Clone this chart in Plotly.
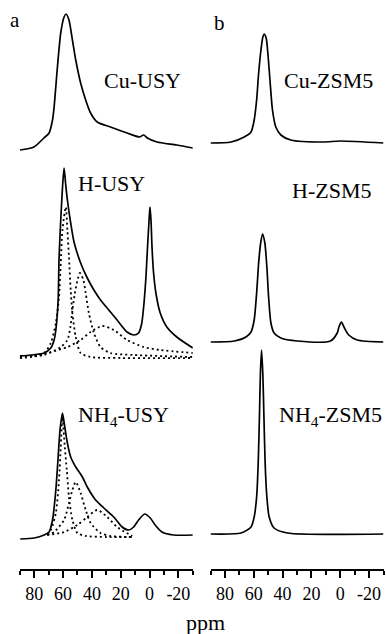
import plotly.graph_objects as go

# ---------------- data (ppm, intensity in arbitrary units) ----------------
cu_usy_ppm = [90, 80.2, 73.3, 69.7, 67.3, 66.2, 63.9, 61.6, 59.3, 57.9, 55.9, 53.5, 51.2, 47.8, 44.3, 40.9, 36.3, 27.1, 15.6, 7, 4.1, 1.5, -5.1, -18.9, -30]
cu_usy_int = [0, 3, 12, 17, 30, 43, 83, 117, 133, 136, 130, 110, 90, 67, 50, 37, 28, 23, 17, 13, 15, 12, 8, 5, 2]

h_usy_ppm = [90, 82.3, 73.1, 68.5, 66.2, 65, 63.4, 62.8, 61.6, 60.4, 59.3, 58.2, 57, 54.7, 52.4, 47.8, 43.2, 38.6, 34, 27.1, 22.5, 15.6, 11, 7.6, 5.5, 4.1, 2.5, 1.4, 0.2, -0.3, -1, -1.7, -2.8, -4.4, -7.4, -12, -18.9, -30]
h_usy_int = [0, 1, 3, 8, 16, 26, 56, 96, 136, 168, 188, 172, 156, 133, 114, 93, 78, 66, 56, 44, 36, 24, 21, 23, 32, 49, 79, 109, 139, 149, 136, 109, 83, 63, 43, 29, 19, 8]

h_usy_c1_ppm = [90, 82.3, 73.1, 68.5, 65, 62.8, 61.6, 60.4, 58.1, 57, 55.9, 54.7, 53.5, 51.2, 47.8, 40.9, 20, -30]
h_usy_c1_int = [0, 1, 5, 15, 35, 61, 95, 128, 151, 128, 101, 68, 45, 21, 5, 1, 0, 0]
h_usy_c2_ppm = [90, 73.1, 61.6, 57, 55, 53.5, 52, 50.1, 48.3, 45.9, 44.3, 42.1, 38.6, 34, 27.1, 11, -30]
h_usy_c2_int = [1, 3, 11, 18, 30, 48, 63, 77, 85, 78, 65, 45, 25, 11, 5, 3, 1]
h_usy_c3_ppm = [90, 80, 68.5, 57, 47.8, 40.9, 32.8, 24.8, 15.6, 4.1, -7.4, -30]
h_usy_c3_int = [2, 2, 6, 11, 18, 26, 32, 28, 18, 11, 8, 5]

nh4_usy_ppm = [89.7, 80, 73.1, 69.7, 67.3, 65, 63.4, 62.1, 60.4, 58.8, 57, 54.7, 51.2, 46.6, 43.2, 37.4, 31.7, 24.8, 19, 14.5, 11, 7.6, 3.4, -0.5, -3.9, -8.6, -16.6, -30]
nh4_usy_int = [0, 1, 4, 7, 19, 49, 82, 109, 126, 112, 96, 82, 72, 62, 52, 39, 31, 22, 12, 9, 12, 19, 25, 21, 14, 7, 4, 4]

nh4_usy_c1_ppm = [71, 68.5, 65, 62.8, 61.6, 60.4, 58.8, 57.4, 55.9, 53.5, 50.1, 44, 30, 12]
nh4_usy_c1_int = [3, 7, 24, 57, 90, 120, 90, 67, 40, 17, 4, 1, 0, 0]
nh4_usy_c2_ppm = [71, 66.2, 59.3, 55.9, 53.5, 51.2, 47.8, 44.3, 40.9, 34, 27.1, 12]
nh4_usy_c2_int = [2, 5, 17, 34, 47, 55, 44, 27, 14, 4, 1, 0]
nh4_usy_c3_ppm = [71, 59.3, 50.1, 43.2, 36.3, 29.4, 22.5, 12]
nh4_usy_c3_int = [2, 5, 12, 20, 27, 20, 10, 1]

cu_zsm5_ppm = [90, 75.7, 66.6, 61.9, 59.7, 58, 56.6, 55, 53.7, 52.8, 51.4, 50, 48.6, 47, 44.7, 41.2, 34.3, 11.6, 0, -30]
cu_zsm5_int = [0, 1, 6, 11, 23, 43, 70, 93, 106, 109, 105, 86, 60, 33, 16, 8, 3, 1, 2, 0]

h_zsm5_ppm = [90, 73.4, 65.4, 61.9, 59.7, 58, 56.6, 55.2, 53.9, 52.3, 50.9, 49.7, 48.1, 45.9, 41.2, 29.7, 6.8, 2.1, 0.9, -0.8, -2.9, -5.9, -11.7, -30]
h_zsm5_int = [0, 1, 5, 10, 22, 49, 79, 99, 108, 99, 75, 45, 19, 9, 4, 1, 1, 9, 15, 20, 14, 7, 2, 0]

nh4_zsm5_ppm = [90, 68.8, 61.9, 59.7, 58, 56.9, 56, 55.4, 54.6, 53.7, 53, 52.1, 50.9, 49.3, 45.9, 36.6, -30]
nh4_zsm5_int = [0, 1, 7, 17, 37, 71, 121, 160, 184, 160, 121, 71, 37, 17, 6, 1, 0]

# vertical stacking offsets of each trace (same units as intensity)
offsets = {"cu_usy": 419, "h_usy": 213, "h_usy_fit": 211, "nh4_usy": 30, "nh4_usy_fit": 32,
           "cu_zsm5": 426, "h_zsm5": 227, "nh4_zsm5": 35}

x_ticks = [80, 60, 40, 20, 0, -20]

# ---------------- figure ----------------
fig = go.Figure()
SOLID = dict(color="black", width=1.7, shape="spline", smoothing=0.7)
DOT = dict(color="black", width=1.8, dash="2px,3px", shape="spline", smoothing=0.7)

def add(ppm, inten, off, line, xa):
    fig.add_trace(go.Scatter(x=ppm, y=[v + offsets[off] for v in inten], mode="lines",
                             line=line, xaxis=xa, yaxis="y", showlegend=False, hoverinfo="skip"))

add(cu_usy_ppm, cu_usy_int, "cu_usy", SOLID, "x")
add(h_usy_c1_ppm, h_usy_c1_int, "h_usy_fit", DOT, "x")
add(h_usy_c2_ppm, h_usy_c2_int, "h_usy_fit", DOT, "x")
add(h_usy_c3_ppm, h_usy_c3_int, "h_usy_fit", DOT, "x")
add(h_usy_ppm, h_usy_int, "h_usy", SOLID, "x")
add(nh4_usy_c1_ppm, nh4_usy_c1_int, "nh4_usy_fit", DOT, "x")
add(nh4_usy_c2_ppm, nh4_usy_c2_int, "nh4_usy_fit", DOT, "x")
add(nh4_usy_c3_ppm, nh4_usy_c3_int, "nh4_usy_fit", DOT, "x")
add(nh4_usy_ppm, nh4_usy_int, "nh4_usy", SOLID, "x")
add(cu_zsm5_ppm, cu_zsm5_int, "cu_zsm5", SOLID, "x2")
add(h_zsm5_ppm, h_zsm5_int, "h_zsm5", SOLID, "x2")
add(nh4_zsm5_ppm, nh4_zsm5_int, "nh4_zsm5", SOLID, "x2")

W, H = 386, 634
FONT = "Liberation Serif, Times New Roman, serif"

def xaxis_cfg(dom):
    return dict(domain=dom, range=[90, -30], showgrid=False, zeroline=False,
                showline=True, linecolor="black", linewidth=2,
                ticks="outside", ticklen=7, tickwidth=1.6, tickcolor="black",
                tickvals=x_ticks, ticktext=[str(v) for v in x_ticks],
                tickfont=dict(family=FONT, size=18, color="black"),
                minor=dict(dtick=10, tick0=0, ticks="outside", ticklen=4, tickwidth=1.6, tickcolor="black"),
                anchor="y", fixedrange=True)

fig.update_layout(
    width=W, height=H, margin=dict(l=0, r=0, t=0, b=0),
    paper_bgcolor="white", plot_bgcolor="white",
    xaxis=xaxis_cfg([19.8 / W, 192.8 / W]),
    xaxis2=xaxis_cfg([210.5 / W, 383.5 / W]),
    yaxis=dict(domain=[65 / H, 1], range=[0, 569], visible=False, fixedrange=True),
    font=dict(family=FONT, color="black"),
)

def label(text, px, py, size=22, xanchor="center"):
    fig.add_annotation(text=text, x=px / W, y=1 - py / H, xref="paper", yref="paper",
                       showarrow=False, xanchor=xanchor, yanchor="middle",
                       font=dict(family=FONT, size=size, color="black"))

label("a", 15, 20, size=21)
label("b", 219, 23, size=21)
label("Cu-USY", 142, 80)
label("H-USY", 112, 183)
label("NH<sub>4</sub>-USY", 124, 416)
label("Cu-ZSM5", 328, 80)
label("H-ZSM5", 331, 190)
label("NH<sub>4</sub>-ZSM5", 330, 416)
label("ppm", 205, 622)

fig.write_html("out.html")
